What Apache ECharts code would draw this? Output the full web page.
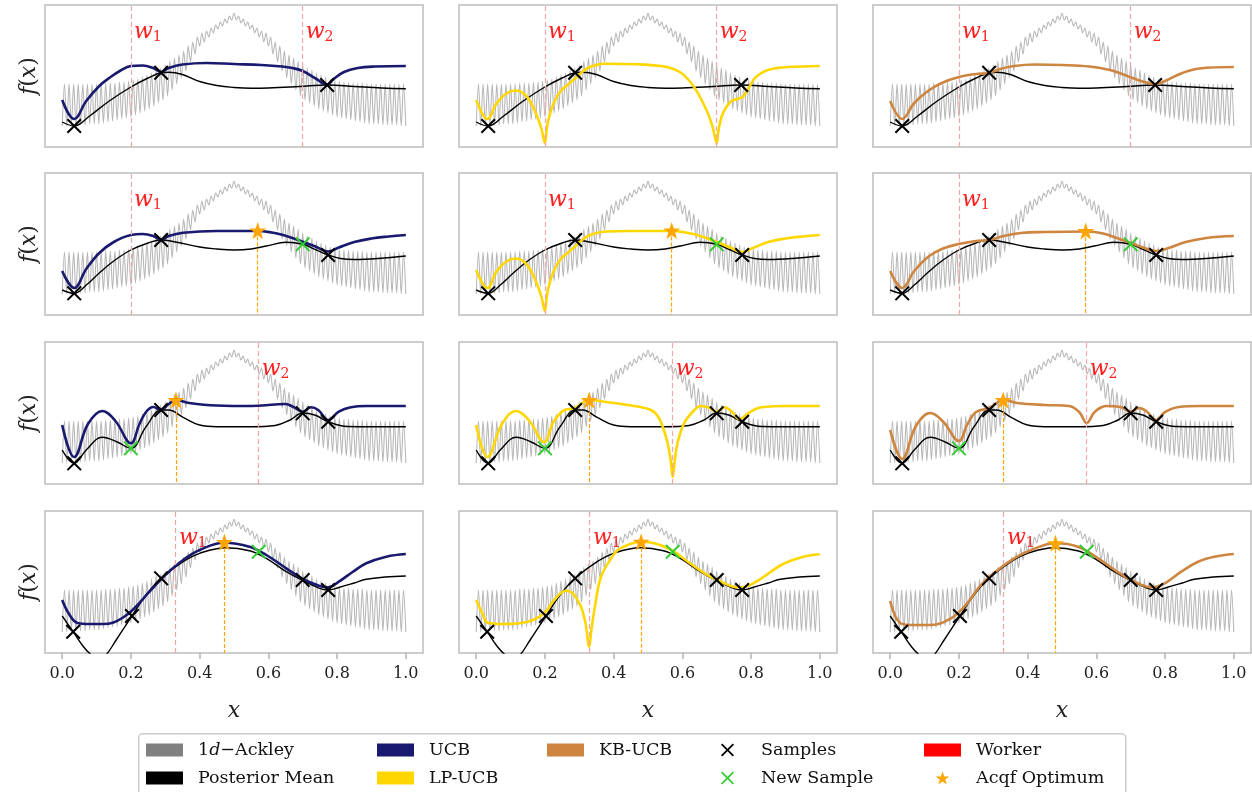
<!DOCTYPE html>
<html>
<head>
<meta charset="utf-8">
<title>UCB / LP-UCB / KB-UCB on 1d-Ackley</title>
<script src="https://cdn.jsdelivr.net/npm/echarts@6.0.0/dist/echarts.min.js"></script>
<style>
  html, body { margin: 0; padding: 0; background: #fff; }
  #chart { width: 1252px; height: 792px; }
</style>
</head>
<body>
<div id="chart"></div>
<script>
// x ticks of the bottom row
const xTicks = [0, 0.2, 0.4, 0.6, 0.8, 1.0];

// 1d-Ackley, read peak / trough by peak / trough (x = i / 150)
const ackleyY = [
  21, 63, 21, 63, 22, 63, 22, 63, 22, 63, 22, 63, 23, 63, 23, 63, 23, 63, 24, 64,
  25, 64, 26, 64, 27, 65, 28, 65, 29, 66, 30, 67, 32, 68, 34, 70, 36, 72, 38, 74,
  41, 77, 44, 79, 47, 82, 51, 86, 57, 89, 63, 92, 69, 96, 76, 101, 85, 105, 93, 110,
  101, 114, 105, 116, 110, 119, 114, 122, 118, 125, 121, 128, 124, 131, 127, 134,
  127, 131, 124, 128, 121, 125, 118, 122, 114, 119, 110, 116, 105, 114, 101, 110,
  93, 105, 85, 101, 76, 96, 69, 92, 63, 89, 57, 86, 51, 82, 47, 79, 44, 77, 41, 74,
  38, 72, 36, 70, 34, 68, 32, 67, 30, 66, 29, 65, 28, 65, 27, 64, 26, 64, 25, 64,
  24, 63, 23, 63, 23, 63, 23, 63, 22, 63, 22, 63, 22, 63, 22, 63, 21, 63, 21
];

// ---- row 1 ----
const meanR1 = [[0,25],[0.035,21],[0.08,31],[0.137,46],[0.2,60],[0.25,69],[0.288,74.3],[0.31,74.8],[0.35,72.5],[0.4,65.5],[0.45,61.5],[0.5,59.5],[0.55,58.7],[0.6,59],[0.69,60.5],[0.771,62],[0.85,60.5],[0.93,59],[1,58.3]];
const ucbR1 = [[0,47],[0.035,28],[0.07,46],[0.108,61],[0.137,69],[0.17,76.5],[0.2,81],[0.234,81.5],[0.265,79],[0.288,75],[0.31,79],[0.35,82.5],[0.42,84],[0.5,83],[0.58,82],[0.64,80.5],[0.67,79],[0.7,76],[0.74,68],[0.771,62],[0.79,68],[0.82,75],[0.86,79],[0.91,80.5],[1,81]];
const lpucbR1 = [[0,47],[0.033,28],[0.06,44],[0.09,54],[0.116,56.5],[0.14,53],[0.16,44],[0.178,30],[0.19,18],[0.2,4],[0.206,20],[0.217,36],[0.23,47],[0.246,56],[0.266,62],[0.286,68],[0.305,74],[0.325,79],[0.35,82],[0.374,83.3],[0.47,82.7],[0.539,81],[0.57,78.5],[0.597,74],[0.618,67],[0.636,59],[0.656,47],[0.675,33],[0.688,20],[0.7,4],[0.704,14],[0.714,30],[0.728,40],[0.743,46],[0.76,48],[0.775,50],[0.79,57],[0.811,69],[0.835,75],[0.859,78],[0.907,80],[1,81]];
const kbucbR1 = [[0,46],[0.035,28],[0.07,44],[0.11,56],[0.15,64],[0.2,70],[0.25,73],[0.288,74],[0.32,78],[0.36,81],[0.42,82.5],[0.5,82],[0.58,80.5],[0.64,77],[0.69,71],[0.73,66],[0.771,63],[0.8,66],[0.85,74],[0.9,78.5],[1,80]];
const samplesR1 = [[0.035,21],[0.288,74.3],[0.771,62]];
const newSampleR1 = [];
const optimumR1 = [null, null, null];
const workersR1 = [0.2, 0.7];
const workerIdsR1 = ['1', '2'];

// ---- row 2 ----
const meanR2 = [[0,25],[0.035,21.7],[0.07,30],[0.108,42],[0.15,54],[0.2,65],[0.25,72],[0.288,75],[0.33,73],[0.4,68],[0.45,66],[0.5,65],[0.55,66],[0.594,69],[0.652,72.7],[0.7,70.7],[0.74,65],[0.774,60],[0.81,56.5],[0.85,55.5],[0.92,56.5],[1,59]];
const ucbR2 = [[0,44],[0.035,27],[0.07,46],[0.108,62],[0.15,73],[0.2,80],[0.234,81],[0.265,79],[0.288,75],[0.31,79],[0.352,82.3],[0.45,84],[0.569,84],[0.61,82.5],[0.643,80],[0.67,77],[0.7,73.3],[0.74,68],[0.774,63.5],[0.805,67.5],[0.85,73],[0.9,76.5],[0.95,78.5],[1,80]];
const lpucbR2 = [[0,45],[0.033,27],[0.06,44],[0.09,54],[0.116,56.5],[0.14,53],[0.16,44],[0.178,30],[0.19,18],[0.2,4],[0.206,20],[0.217,36],[0.23,47],[0.246,56],[0.266,62],[0.286,68],[0.305,74],[0.325,79],[0.35,82],[0.38,83.5],[0.45,84],[0.57,84],[0.61,82.5],[0.643,80],[0.67,77],[0.7,73],[0.74,67.5],[0.774,63],[0.805,67],[0.85,73],[0.9,76.5],[0.95,78.5],[1,80]];
const kbucbR2 = [[0,44],[0.035,27],[0.07,44],[0.11,58],[0.15,66],[0.2,71],[0.25,74],[0.288,75],[0.33,79],[0.38,82],[0.45,83],[0.575,83.5],[0.62,81.5],[0.66,77],[0.7,72],[0.74,67],[0.774,64],[0.81,67],[0.86,73],[0.92,77],[1,79]];
const samplesR2 = [[0.035,21.7],[0.288,75],[0.774,60]];
const newSampleR2 = [[0.7,70.7]];
const optimumR2 = [[0.569,84.5],[0.569,84.5],[0.569,84]];
const workersR2 = [0.2];
const workerIdsR2 = ['1'];

// ---- row 3 ----
const meanR3 = [[0,34],[0.035,20.7],[0.07,34],[0.117,46.7],[0.16,42],[0.2,35.7],[0.244,57.3],[0.288,74],[0.31,74],[0.352,66.7],[0.4,59],[0.45,57.3],[0.55,57.3],[0.62,58.5],[0.663,64],[0.7,71],[0.735,69],[0.774,62.3],[0.83,57.5],[0.9,57.3],[1,57.3]];
const ucbR3 = [[0,59],[0.035,27],[0.075,60],[0.117,73],[0.155,63],[0.2,40.7],[0.225,60],[0.244,72],[0.265,77],[0.288,74],[0.31,80],[0.331,84],[0.37,81],[0.45,78.5],[0.55,78],[0.62,79.5],[0.65,80],[0.673,77],[0.7,72.3],[0.724,76.7],[0.745,74],[0.774,64],[0.805,72.3],[0.84,76.7],[0.885,78],[1,78]];
const lpucbR3 = [[0,59],[0.033,27],[0.075,60],[0.116,73],[0.155,63],[0.198,42],[0.225,62],[0.257,74],[0.286,75.7],[0.329,84],[0.373,82.3],[0.46,78],[0.509,74],[0.53,67],[0.545,55],[0.557,41],[0.566,24],[0.572,7],[0.578,24],[0.586,41],[0.605,60.7],[0.635,74],[0.654,78],[0.68,76],[0.699,72.3],[0.723,76.7],[0.745,72],[0.767,64.7],[0.791,70.7],[0.83,76.7],[0.907,78],[1,78]];
const kbucbR3 = [[0,54],[0.035,25],[0.075,58],[0.117,71],[0.155,62],[0.2,43],[0.225,60],[0.25,72],[0.288,76],[0.331,84],[0.37,81],[0.45,79],[0.52,78],[0.55,72],[0.572,61],[0.595,72],[0.63,78],[0.67,77],[0.7,72.5],[0.724,76],[0.745,73],[0.774,64],[0.8,72],[0.84,77],[0.9,78],[1,78]];
const samplesR3 = [[0.035,20.7],[0.288,74],[0.7,70.7],[0.774,62.3]];
const newSampleR3 = [[0.2,35.7]];
const optimumR3 = [[0.331,84],[0.329,84],[0.329,84]];
const workersR3 = [0.572];
const workerIdsR3 = ['2'];

// ---- row 4 ----
const meanR4 = [[0,37],[0.032,21.3],[0.062,6.3],[0.085,-2],[0.105,-6],[0.125,-3],[0.157,13],[0.203,37],[0.244,58],[0.288,74.7],[0.352,91.3],[0.4,99.7],[0.477,105.3],[0.545,102.3],[0.594,94.7],[0.652,81.3],[0.7,72.5],[0.749,64.7],[0.774,63],[0.805,65.5],[0.85,70],[0.885,73.7],[0.94,76],[1,77]];
const ucbR4 = [[0,53],[0.02,39],[0.045,30],[0.08,29],[0.12,29],[0.147,30.3],[0.175,35],[0.205,43],[0.254,61.3],[0.3,78],[0.352,93],[0.4,103],[0.472,110.3],[0.545,106.3],[0.594,98],[0.652,84.7],[0.7,74],[0.749,67],[0.774,65.7],[0.805,71.3],[0.845,81],[0.885,89.7],[0.943,96.3],[1,99]];
const lpucbR4 = [[0,53],[0.02,38],[0.033,30.3],[0.082,29],[0.15,31.3],[0.198,39.7],[0.227,53],[0.261,62.3],[0.281,59.7],[0.305,46.3],[0.318,30],[0.329,6.3],[0.335,22],[0.344,43],[0.363,76],[0.393,94.7],[0.412,103],[0.441,108],[0.48,111.3],[0.519,109.7],[0.568,103],[0.616,91.3],[0.665,79.7],[0.713,71.3],[0.762,65.7],[0.79,67],[0.83,74.7],[0.888,88],[0.947,95.7],[1,98.7]];
const kbucbR4 = [[0,52],[0.031,29.7],[0.07,28],[0.119,28],[0.177,34.7],[0.216,46.3],[0.264,68],[0.313,83],[0.361,94.7],[0.41,103],[0.481,109.7],[0.546,106.3],[0.605,94.7],[0.653,83],[0.702,73],[0.76,65.7],[0.799,69.7],[0.847,81.3],[0.896,91.3],[0.944,96.3],[1,99]];
const samplesR4 = [[0.032,21.3],[0.203,37],[0.288,74.7],[0.7,73],[0.774,63]];
const newSampleR4 = [[0.572,101.3]];
const optimumR4 = [[0.472,111],[0.48,111.3],[0.481,109.7]];
const workersR4 = [0.331];
const workerIdsR4 = ['1'];

const rows = [
  { mean: meanR1, acq: [ucbR1, lpucbR1, kbucbR1], samples: samplesR1, fresh: newSampleR1, optimum: optimumR1, workers: workersR1, ids: workerIdsR1 },
  { mean: meanR2, acq: [ucbR2, lpucbR2, kbucbR2], samples: samplesR2, fresh: newSampleR2, optimum: optimumR2, workers: workersR2, ids: workerIdsR2 },
  { mean: meanR3, acq: [ucbR3, lpucbR3, kbucbR3], samples: samplesR3, fresh: newSampleR3, optimum: optimumR3, workers: workersR3, ids: workerIdsR3 },
  { mean: meanR4, acq: [ucbR4, lpucbR4, kbucbR4], samples: samplesR4, fresh: newSampleR4, optimum: optimumR4, workers: workersR4, ids: workerIdsR4 }
];

const acqNames = ['UCB', 'LP-UCB', 'KB-UCB'];
const acqColors = ['#191970', '#ffd700', '#cd853f'];

// layout
const SERIF = 'DejaVu Serif';
const panelLeft = [45, 459, 873];
const panelTop = [5, 173, 342, 511];
const panelW = 378;
const panelH = 142;

const X_PATH = 'path://M0,1.9L1.9,0L10,8.1L18.1,0L20,1.9L11.9,10L20,18.1L18.1,20L10,11.9L1.9,20L0,18.1L8.1,10Z';
const STAR_PATH = 'path://M50,2L61.8,36.2L97.6,36.6L69,58.2L79.4,92.4L50,72L20.6,92.4L31,58.2L2.4,36.6L38.2,36.2Z';
const GREEN = '#33cc33';

const ackleyPts = ackleyY.map((v, i) => [i / (ackleyY.length - 1), v]);

const workerRich = {
  w: { fontFamily: SERIF, fontStyle: 'italic', fontSize: 22, color: '#ff2020' },
  s: { fontFamily: SERIF, fontSize: 14, color: '#ff2020', padding: [11, 0, 0, 0] }
};

const grids = [];
const xAxes = [];
const yAxes = [];
const series = [];

for (let r = 0; r < 4; r++) {
  const row = rows[r];
  for (let c = 0; c < 3; c++) {
    const g = r * 3 + c;
    const bottom = r === 3;

    grids.push({
      left: panelLeft[c], top: panelTop[r], width: panelW, height: panelH,
      show: true, borderColor: '#bdbdbd', borderWidth: 1.5, backgroundColor: 'transparent'
    });

    xAxes.push({
      gridIndex: g, type: 'value', min: -0.05, max: 1.05,
      axisLine: { show: false }, splitLine: { show: false },
      axisTick: { show: bottom, customValues: xTicks, length: 6, lineStyle: { color: '#b5b5b5', width: 1.5 } },
      axisLabel: {
        show: bottom, customValues: xTicks, formatter: v => v.toFixed(1),
        margin: 13, fontFamily: SERIF, fontSize: 16, color: '#222'
      },
      name: bottom ? 'x' : '', nameLocation: 'middle', nameGap: 47,
      nameTextStyle: { fontFamily: SERIF, fontStyle: 'italic', fontSize: 22, color: '#222' }
    });

    yAxes.push({
      gridIndex: g, type: 'value', min: 0, max: 142,
      axisLine: { show: false }, axisTick: { show: false }, axisLabel: { show: false }, splitLine: { show: false },
      name: c === 0 ? '{i|f}(' + '{i|x})' : '', nameLocation: 'middle', nameRotate: 90, nameGap: 5,
      nameTextStyle: {
        fontFamily: SERIF, fontSize: 22, color: '#222',
        rich: { i: { fontFamily: SERIF, fontStyle: 'italic', fontSize: 22, color: '#222' } }
      }
    });

    const base = { xAxisIndex: g, yAxisIndex: g, silent: true, animation: false };

    // ackley function
    series.push(Object.assign({
      name: '1d−Ackley', type: 'line', data: ackleyPts, z: 1,
      showSymbol: false, symbol: 'none', smooth: 0.3,
      lineStyle: { color: '#b8b8b8', width: 1.1 }, itemStyle: { color: '#808080' }
    }, base));

    // workers
    series.push(Object.assign({
      name: 'Worker', type: 'scatter', z: 2, symbolSize: 0,
      itemStyle: { color: '#ff0000', opacity: 1 },
      data: row.workers.map((w, k) => ({
        value: [w, 115],
        label: { formatter: '{w|w}{s|' + row.ids[k] + '}' }
      })),
      label: { show: true, position: 'right', distance: 3, rich: workerRich },
      markLine: {
        silent: true, symbol: ['none', 'none'], label: { show: false },
        lineStyle: { color: '#f6a5a5', type: [5, 3], width: 1.2 },
        data: row.workers.map(w => ({ xAxis: w }))
      }
    }, base));

    // posterior mean
    series.push(Object.assign({
      name: 'Posterior Mean', type: 'line', data: row.mean, z: 3,
      showSymbol: false, symbol: 'none', smooth: 0.4, clip: true,
      lineStyle: { color: '#000', width: 1.4 }, itemStyle: { color: '#000' }
    }, base));

    // acquisition function
    series.push(Object.assign({
      name: acqNames[c], type: 'line', data: row.acq[c], z: 4,
      showSymbol: false, symbol: 'none', smooth: 0.4, clip: true,
      lineStyle: { color: acqColors[c], width: 2.6 }, itemStyle: { color: acqColors[c] }
    }, base));

    // samples
    series.push(Object.assign({
      name: 'Samples', type: 'scatter', data: row.samples, z: 6,
      symbol: X_PATH, symbolSize: 15, itemStyle: { color: '#000', opacity: 1 }
    }, base));

    if (row.fresh.length) {
      series.push(Object.assign({
        name: 'New Sample', type: 'scatter', data: row.fresh, z: 6,
        symbol: X_PATH, symbolSize: 15, itemStyle: { color: GREEN, opacity: 1 }
      }, base));
    }

    const opt = row.optimum[c];
    if (opt) {
      series.push(Object.assign({
        name: 'Acqf Optimum', type: 'scatter', data: [opt], z: 7,
        symbol: STAR_PATH, symbolSize: 17, itemStyle: { color: '#ffa500', opacity: 1 },
        markLine: {
          silent: true, symbol: ['none', 'none'], label: { show: false },
          lineStyle: { color: '#ffa500', type: [4, 2], width: 1.2 },
          data: [[{ coord: [opt[0], opt[1]] }, { coord: [opt[0], 0] }]]
        }
      }, base));
    }
  }
}

// legend: five columns
const legendText = {
  fontFamily: SERIF, fontSize: 17.5, color: '#111', padding: [0, 0, 0, 10], lineHeight: 17,
  rich: { i: { fontFamily: SERIF, fontStyle: 'italic', fontSize: 17.5, color: '#111' } }
};
function legendCol(left, items) {
  return {
    orient: 'vertical', left: left, top: 741, padding: 0,
    itemWidth: 37, itemHeight: 13, itemGap: 10, selectedMode: false,
    itemStyle: { borderWidth: 0, opacity: 1 }, lineStyle: { width: 0 },
    textStyle: legendText,
    formatter: name => name === '1d−Ackley' ? '1{i|d}−Ackley' : name,
    data: items
  };
}
const legends = [
  legendCol(146, [
    { name: '1d−Ackley', icon: 'rect', itemStyle: { color: '#808080', opacity: 1 } },
    { name: 'Posterior Mean', icon: 'rect', itemStyle: { color: '#000', opacity: 1 } }
  ]),
  legendCol(377, [
    { name: 'UCB', icon: 'rect', itemStyle: { color: '#191970', opacity: 1 } },
    { name: 'LP-UCB', icon: 'rect', itemStyle: { color: '#ffd700', opacity: 1 } }
  ]),
  legendCol(547, [
    { name: 'KB-UCB', icon: 'rect', itemStyle: { color: '#cd853f', opacity: 1 } }
  ]),
  legendCol(721, [
    { name: 'Samples', icon: X_PATH, itemStyle: { color: '#000', opacity: 1 } },
    { name: 'New Sample', icon: X_PATH, itemStyle: { color: GREEN, opacity: 1 } }
  ]),
  legendCol(924, [
    { name: 'Worker', icon: 'rect', itemStyle: { color: '#ff0000', opacity: 1 } },
    { name: 'Acqf Optimum', icon: STAR_PATH, itemStyle: { color: '#ffa500', opacity: 1 } }
  ])
];

const chart = echarts.init(document.getElementById('chart'), null, { renderer: 'canvas' });
chart.setOption({
  animation: false,
  backgroundColor: '#fff',
  graphic: [{
    type: 'rect', left: 138, top: 733, z: 0, silent: true,
    shape: { width: 987, height: 80, r: 4 },
    style: { fill: '#fff', stroke: '#cccccc', lineWidth: 1.5 }
  }],
  grid: grids,
  xAxis: xAxes,
  yAxis: yAxes,
  legend: legends,
  series: series
});
</script>
</body>
</html>
